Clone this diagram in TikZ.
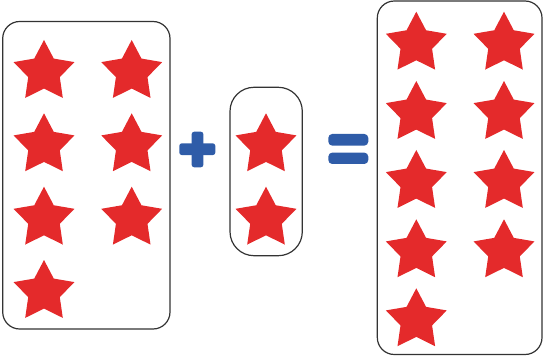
\documentclass[tikz,border=0pt]{standalone}
\usetikzlibrary{positioning}
\definecolor{starred}{HTML}{E42A2B}
\definecolor{opblue}{HTML}{2F5CA8}
\definecolor{boxline}{HTML}{333333}
\tikzset{
  groupbox/.style={draw=boxline, line width=1.2pt, rounded corners=#1, inner sep=0pt, fill=none},
  opbar/.style={fill=opblue, draw=none, rounded corners=2.5pt, inner sep=0pt},
  mystar/.pic={\fill[starred] (90:32pt) -- (126:16.6pt) -- (162:32pt) -- (198:16.6pt) -- (234:32pt) -- (270:16.6pt) -- (306:32pt) -- (342:16.6pt) -- (18:32pt) -- (54:16.6pt) -- cycle;}
}
\begin{document}
\begin{tikzpicture}[x=1pt,y=-1pt]
\useasboundingbox (0,0) rectangle (543,358);
% boxes
\node[groupbox=17pt, minimum width=167.3pt, minimum height=307.5pt] (leftbox) at (86.35,175.25) {};
\node[groupbox=24pt, minimum width=72.3pt, minimum height=168.4pt] (midbox) at (266.15,171.5) {};
\node[groupbox=17pt, minimum width=164.7pt, minimum height=353.5pt] (rightbox) at (459.65,177.75) {};
% left stars
\pic (l1) at (44,72) {mystar};
\pic (l2) at (131.7,72) {mystar};
\pic (l3) at (44,145.3) {mystar};
\pic (l4) at (131.7,145.3) {mystar};
\pic (l5) at (44,218.7) {mystar};
\pic (l6) at (131.7,218.7) {mystar};
\pic (l7) at (44,292) {mystar};
% middle stars
\pic (m1) at (266,145.3) {mystar};
\pic (m2) at (266,218.7) {mystar};
% right stars
\pic (r1) at (416.3,43.7) {mystar};
\pic (r2) at (504,43.7) {mystar};
\pic (r3) at (416.3,113) {mystar};
\pic (r4) at (504,113) {mystar};
\pic (r5) at (416.3,182) {mystar};
\pic (r6) at (504,182) {mystar};
\pic (r7) at (416.3,251.3) {mystar};
\pic (r8) at (504,251.3) {mystar};
\pic (r9) at (416.3,320.3) {mystar};
% plus
\node[opbar, minimum width=36pt, minimum height=11.7pt] (plush) at (197.3,149.2) {};
\node[opbar, minimum width=11.7pt, minimum height=35.6pt] (plusv) at (197.5,149.5) {};
% equals
\node[opbar, rounded corners=4pt, minimum width=40pt, minimum height=11.7pt] (eqtop) at (348.3,139.8) {};
\node[opbar, rounded corners=4pt, minimum width=40pt, minimum height=11.4pt] (eqbot) at (348.3,158.3) {};
\end{tikzpicture}
\end{document}
